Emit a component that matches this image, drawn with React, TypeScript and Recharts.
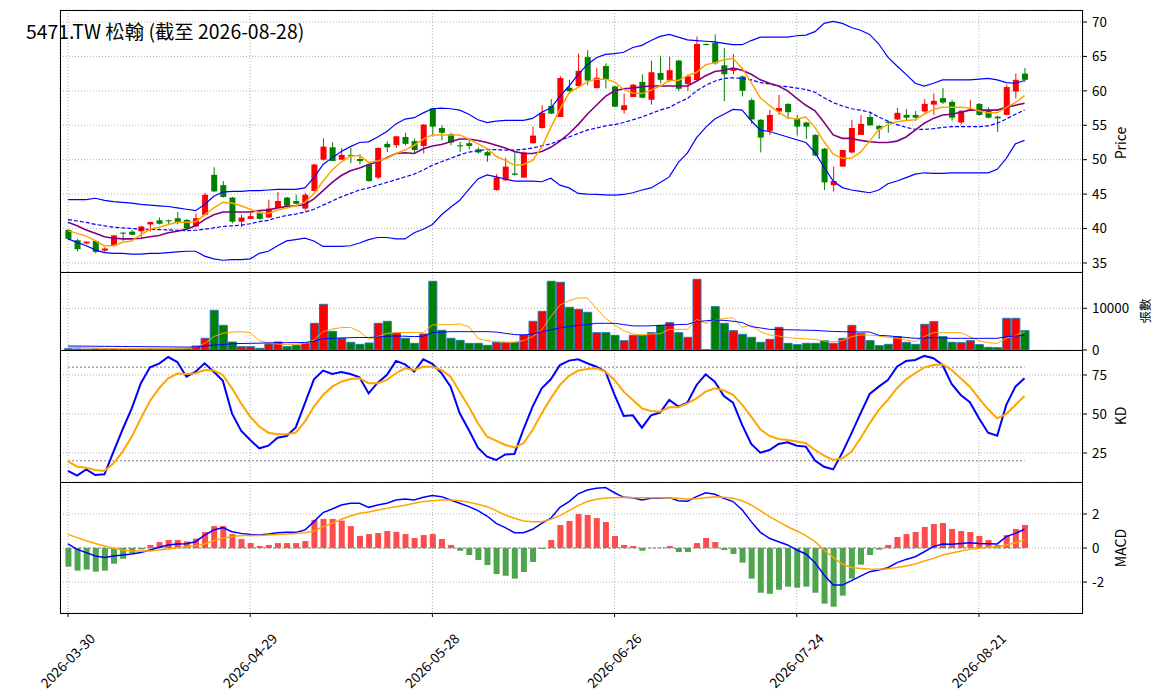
import React from 'react';
import {
  ComposedChart,
  Bar,
  Line,
  XAxis,
  YAxis,
  CartesianGrid,
  Cell,
  ReferenceLine,
} from 'recharts';

// OHLC (index 0 = 2026-03-30)
const opens = [
  39.8, 38.3, 37.85, 38.2, 36.8, 37.5, 39.4, 39.55, 39.6, 40.6,
  41.2, 41.2, 41.5, 41.25, 40.3, 42.0, 47.8, 46.3, 44.5, 41.0,
  41.4, 42.25, 41.6, 43.0, 44.5, 44.0, 42.9, 45.45, 50.0, 51.8,
  50.0, 50.7, 50.1, 49.3, 47.4, 52.3, 52.1, 53.3, 52.7, 52.0,
  57.45, 54.6, 53.7, 52.1, 52.4, 51.5, 51.1, 45.6, 47.0, 48.0,
  47.4, 52.4, 54.6, 57.8, 56.2, 60.45, 60.7, 64.9, 60.4, 63.6,
  60.64, 57.2, 59.1, 61.3, 58.7, 62.6, 61.5, 64.4, 61.0, 61.56,
  66.8, 67.0, 63.7, 62.9, 62.1, 58.65, 55.8, 54.2, 57.0, 58.1,
  55.9, 55.4, 53.6, 51.6, 46.3, 49.0, 51.05, 53.6, 56.2, 54.9,
  55.5, 55.85, 56.5, 56.5, 57.0, 58.0, 58.95, 58.4, 55.4, 57.1,
  58.1, 57.2, 56.25, 56.5, 59.9, 62.5,
];
const highs = [
  39.9, 38.5, 38.1, 38.3, 37.3, 39.1, 39.5, 39.8, 40.4, 41.0,
  41.6, 41.3, 42.4, 41.4, 42.2, 45.2, 48.9, 46.9, 44.6, 42.0,
  42.3, 42.5, 44.2, 45.3, 44.6, 44.9, 45.2, 49.4, 53.1, 52.5,
  51.7, 51.7, 50.8, 49.4, 51.8, 52.7, 53.4, 53.9, 53.1, 55.2,
  57.5, 55.0, 53.9, 52.6, 53.0, 51.8, 51.3, 47.9, 50.3, 51.25,
  51.2, 54.8, 57.9, 58.8, 62.15, 61.6, 65.4, 65.9, 63.35, 64.0,
  60.7, 59.6, 61.0, 62.4, 64.4, 65.1, 64.95, 64.5, 62.4, 67.9,
  66.9, 68.2, 66.2, 65.3, 62.2, 58.9, 55.9, 57.2, 59.4, 58.2,
  56.5, 55.5, 53.7, 51.7, 49.0, 51.4, 55.8, 56.5, 56.8, 55.0,
  55.65, 57.5, 57.35, 57.1, 58.8, 59.6, 60.4, 58.7, 57.2, 58.7,
  58.2, 57.6, 56.4, 60.9, 62.5, 63.3,
];
const lows = [
  38.3, 36.7, 37.7, 36.4, 36.5, 37.4, 38.2, 39.1, 38.7, 39.6,
  40.6, 40.5, 40.6, 39.9, 40.2, 41.95, 45.3, 44.5, 40.75, 40.2,
  41.4, 41.3, 41.5, 43.0, 43.0, 43.5, 42.6, 45.4, 49.9, 49.8,
  50.0, 49.5, 49.3, 46.8, 47.2, 51.1, 51.7, 52.1, 51.0, 50.9,
  53.4, 52.8, 52.1, 51.1, 51.5, 50.9, 49.7, 45.5, 46.9, 47.7,
  47.4, 52.3, 54.5, 56.6, 56.2, 59.6, 60.65, 60.8, 60.35, 60.35,
  57.6, 56.7, 59.1, 58.9, 58.0, 61.1, 61.3, 59.96, 60.0, 61.5,
  66.6, 63.8, 58.5, 62.4, 59.2, 55.2, 51.05, 53.6, 56.5, 55.9,
  53.5, 53.0, 50.5, 45.6, 45.4, 49.0, 50.9, 53.6, 54.9, 53.0,
  53.9, 55.75, 55.65, 55.65, 56.8, 56.5, 58.1, 55.65, 55.1, 57.1,
  56.4, 56.0, 54.0, 56.5, 58.9, 61.3,
];
const closes = [
  38.5, 37.0, 38.1, 36.6, 37.1, 39.0, 39.3, 39.1, 40.3, 40.95,
  40.7, 41.1, 40.8, 40.0, 41.5, 44.9, 45.4, 44.6, 41.0, 41.6,
  41.8, 41.4, 42.9, 44.0, 43.3, 43.6, 44.9, 49.3, 51.9, 49.8,
  50.7, 50.6, 49.8, 46.9, 51.7, 51.8, 53.4, 52.3, 51.4, 55.1,
  54.8, 53.9, 52.5, 52.0, 52.0, 51.05, 50.6, 47.4, 49.0, 47.8,
  51.05, 53.5, 56.8, 56.7, 61.85, 59.96, 62.9, 61.5, 61.9, 61.66,
  57.7, 57.9, 60.9, 59.0, 62.7, 61.6, 63.0, 60.3, 62.1, 66.8,
  66.7, 64.0, 62.4, 63.2, 60.0, 55.85, 53.2, 56.5, 57.5, 56.9,
  54.8, 54.8, 50.6, 46.7, 46.9, 51.4, 54.6, 55.2, 55.0, 54.4,
  55.35, 56.8, 56.1, 56.1, 58.1, 58.55, 58.3, 56.1, 57.1, 57.3,
  56.5, 56.1, 56.0, 60.55, 61.6, 61.6,
];

// Price overlays
const ma5 = [
  39.7, 39.3, 38.9, 38.2, 37.5, 37.5, 38.0, 38.2, 39.1, 39.9,
  40.2, 40.6, 40.9, 40.9, 41.0, 42.0, 43.0, 43.8, 43.7, 43.3,
  42.8, 42.3, 42.2, 42.7, 43.0, 43.3, 43.8, 45.1, 46.9, 48.5,
  49.7, 50.5, 50.6, 49.6, 49.8, 50.2, 50.9, 51.4, 52.1, 53.0,
  53.6, 53.6, 53.6, 53.6, 53.0, 52.3, 51.6, 50.5, 49.9, 49.2,
  49.3, 49.9, 51.8, 54.7, 57.3, 59.7, 60.5, 61.3, 61.7, 61.7,
  61.3, 60.2, 59.7, 59.6, 60.1, 60.7, 61.5, 61.5, 62.2, 62.7,
  63.8, 64.1, 64.5, 64.7, 63.3, 61.2, 59.0, 57.9, 56.9, 56.1,
  55.9, 56.2, 54.7, 52.6, 50.8, 50.2, 50.2, 51.1, 52.7, 54.4,
  55.1, 55.5, 55.7, 55.8, 56.6, 57.3, 57.6, 57.6, 57.6, 57.5,
  57.1, 56.8, 56.8, 57.6, 58.3, 59.3,
];
const ma10 = [
  40.9, 40.4, 39.8, 39.3, 38.8, 38.6, 38.5, 38.5, 38.6, 38.8,
  39.0, 39.4, 39.6, 39.9, 40.4, 41.3, 42.0, 42.4, 42.4, 42.4,
  42.4, 42.6, 42.7, 43.0, 43.2, 43.3, 43.5, 44.3, 45.5, 46.7,
  47.7, 48.4, 48.8, 49.3, 49.7, 50.3, 50.9, 51.0, 50.9, 51.6,
  52.0, 52.2, 52.6, 53.0, 53.0, 52.8, 52.5, 52.1, 51.7, 51.2,
  50.9, 50.9, 51.2, 51.8, 52.7, 53.8, 55.1, 56.6, 57.9, 59.2,
  60.0, 60.3, 60.4, 60.6, 60.7, 60.7, 60.7, 60.7, 60.7, 61.4,
  62.2, 62.8, 63.0, 63.3, 63.0, 62.4, 61.6, 61.1, 60.7, 60.0,
  58.9, 57.9, 57.1, 55.4, 53.6, 53.1, 53.1, 52.8, 52.6, 52.5,
  52.5, 52.7, 53.3, 54.3, 55.3, 56.0, 56.5, 56.6, 56.9, 57.2,
  57.2, 57.2, 57.2, 57.6, 57.9, 58.2,
];
const bbMid = [
  41.3, 41.1, 40.9, 40.6, 40.4, 40.2, 40.1, 40.0, 39.9, 39.9,
  39.85, 39.8, 39.75, 39.7, 39.75, 39.9, 40.1, 40.3, 40.4, 40.5,
  40.7, 41.0, 41.2, 41.6, 41.9, 42.1, 42.4, 42.8, 43.4, 44.0,
  44.6, 45.1, 45.6, 45.9, 46.3, 46.7, 47.1, 47.5, 47.9, 48.5,
  49.2, 49.7, 50.2, 50.7, 51.1, 51.3, 51.5, 51.45, 51.4, 51.4,
  51.5, 51.7, 52.0, 52.3, 52.8, 53.3, 53.8, 54.3, 54.6, 54.9,
  55.1, 55.4, 55.8, 56.2, 56.7, 57.2, 57.6, 58.3, 58.9, 60.0,
  60.8, 61.4, 61.8, 61.9, 61.8, 61.6, 61.2, 61.0, 60.7, 60.6,
  60.4, 60.2, 59.8, 59.0, 58.3, 57.8, 57.4, 57.2, 56.9, 56.2,
  55.6, 55.1, 54.7, 54.4, 54.4, 54.5, 54.7, 54.8, 54.8, 54.8,
  54.8, 54.9, 55.3, 55.9, 56.6, 57.2,
];
const bbUpper = [
  44.2, 44.2, 44.2, 44.4, 44.1, 43.9, 43.8, 43.7, 43.5, 43.4,
  43.3, 43.2, 43.0, 42.8, 42.6, 43.5, 44.7, 45.3, 45.4, 45.4,
  45.5, 45.5, 45.6, 45.7, 45.7, 45.7, 45.9, 47.4, 49.3, 50.3,
  51.2, 51.9, 52.5, 52.6, 53.3, 54.1, 55.2, 55.9, 56.1, 56.8,
  57.4, 57.5, 57.4, 57.2, 56.6, 55.8, 55.4, 55.6, 55.7, 55.7,
  55.7, 56.0, 56.9, 57.5, 59.2, 60.7, 62.4, 63.8, 64.8, 65.3,
  65.4, 65.6, 66.3, 66.6, 67.3, 67.9, 68.2, 67.8, 67.4, 67.3,
  67.2, 67.1, 66.9, 66.7, 66.7, 67.3, 67.8, 67.8, 67.8, 67.8,
  68.0, 68.1, 68.6, 69.8, 70.1, 69.8, 69.2, 68.8, 68.2, 66.8,
  64.9, 63.6, 62.4, 61.1, 60.7, 61.1, 61.6, 61.6, 61.6, 61.6,
  61.7, 61.8, 61.6, 61.2, 61.1, 61.5,
];
const bbLower = [
  38.5, 38.0, 37.5, 36.9, 36.5, 36.4, 36.4, 36.3, 36.3, 36.4,
  36.4, 36.5, 36.6, 36.7, 36.7, 36.0, 35.6, 35.4, 35.5, 35.5,
  35.6, 36.4, 36.7, 37.5, 38.2, 38.4, 38.6, 38.2, 37.4, 37.4,
  37.4, 37.5, 37.9, 38.4, 38.7, 38.7, 38.5, 38.5, 39.4, 39.9,
  40.6, 42.0, 43.1, 44.1, 45.7, 47.2, 47.8, 47.5, 47.2, 46.9,
  46.9, 46.9, 46.8, 47.3, 46.3, 45.9, 45.1, 45.0, 44.95, 44.9,
  44.85, 44.95, 45.2, 45.6, 45.9, 46.7, 47.5, 49.6, 51.0, 53.2,
  54.7, 55.9, 56.6, 57.3, 57.2, 55.65, 54.3, 54.1, 53.7, 53.3,
  52.9, 52.5, 51.05, 48.9, 46.9, 45.95, 45.6, 45.4, 45.2, 45.6,
  46.5, 46.9, 47.4, 47.9, 48.1, 48.0, 48.0, 48.1, 48.1, 48.1,
  48.1, 48.1, 48.6, 50.2, 52.3, 52.8,
];

// Volume (張) and its averages
const volumes = [
  300, 250, 200, 280, 220, 260, 180, 200, 230, 260,
  210, 240, 300, 350, 960, 2800, 9520, 5920, 1920, 800,
  800, 400, 1440, 1920, 800, 1120, 1600, 6400, 10960, 4480,
  2800, 1840, 1360, 1680, 6400, 6880, 4080, 2800, 1600, 3840,
  16480, 4720, 2800, 2320, 1600, 1600, 1120, 1840, 1840, 1840,
  3600, 6880, 9280, 16480, 16240, 10240, 9760, 9040, 4160, 4160,
  3520, 2240, 3520, 3520, 4160, 5920, 6560, 4160, 3040, 16960,
  60, 10400, 6400, 4640, 3760, 3040, 1840, 2560, 5440, 1600,
  1280, 1600, 1600, 2240, 1600, 2800, 5920, 4000, 2240, 1040,
  1360, 3200, 1840, 1360, 6160, 6800, 3200, 1840, 1760, 2240,
  1280, 640, 560, 7600, 7600, 4640,
];
const volMa5 = [
  640, 600, 520, 450, 400, 350, 330, 320, 300, 300,
  300, 300, 300, 320, 640, 1600, 3200, 4000, 4320, 4400,
  4160, 2240, 1700, 1440, 1280, 1280, 1600, 2400, 4400, 5040,
  5360, 5440, 4400, 2640, 3200, 4000, 4160, 4200, 4200, 4160,
  6000, 6080, 6080, 6240, 5600, 2800, 2240, 2000, 1840, 1840,
  2240, 3200, 4800, 8000, 10800, 11840, 12480, 12480, 10000, 7600,
  6000, 4640, 3840, 3600, 3840, 3900, 4960, 4960, 4960, 7360,
  6400, 7200, 7520, 7760, 5440, 6000, 4400, 3600, 3360, 2960,
  2800, 2640, 2560, 2160, 2000, 2240, 3200, 3600, 3600, 3360,
  3040, 2800, 2400, 2000, 3200, 4160, 4160, 4160, 4160, 3200,
  2240, 1760, 1600, 2800, 3440, 4400,
];
const volMa20 = [
  960, 940, 920, 900, 880, 860, 840, 820, 800, 780,
  760, 740, 720, 700, 720, 960, 1200, 1300, 1500, 1560,
  1600, 1640, 1700, 1760, 1760, 1760, 1800, 2100, 2720, 2800,
  2880, 2960, 3000, 3000, 3100, 3300, 3360, 3300, 3200, 3300,
  4160, 4300, 4400, 4400, 4400, 4400, 4400, 4300, 4000, 3700,
  3600, 3800, 4400, 4800, 5300, 5600, 5900, 6100, 6400, 6400,
  6400, 6100, 5800, 5760, 5800, 5900, 6000, 6100, 6160, 6800,
  7000, 7200, 7100, 6900, 6600, 5600, 5300, 4960, 4900, 4850,
  4800, 4750, 4700, 4560, 4450, 4400, 4320, 4320, 4320, 3520,
  3400, 3200, 3000, 2800, 2850, 2960, 2900, 2800, 2800, 2800,
  2800, 2800, 2800, 3200, 3350, 3520,
];

// KD
const kValues = [
  13.5, 10.5, 14.5, 10.9, 11.3, 25.8, 40.2, 53.6, 69.7, 79.9,
  82.3, 86.5, 83.3, 73.9, 77.1, 82.5, 77.1, 71.2, 50.4, 39.3,
  33.3, 28.0, 29.7, 34.8, 35.9, 41.4, 56.8, 72.2, 77.8, 75.6,
  76.9, 75.6, 73.5, 63.2, 70.1, 75.0, 84.0, 81.8, 77.1, 85.0,
  82.1, 76.1, 67.5, 50.4, 39.7, 28.4, 22.6, 20.5, 24.1, 24.4,
  40.2, 54.7, 66.5, 72.2, 81.4, 84.2, 85.0, 82.5, 80.3, 77.1,
  62.2, 48.7, 49.1, 41.2, 49.1, 50.9, 59.0, 54.7, 57.3, 68.6,
  75.4, 70.7, 61.5, 57.3, 43.0, 30.8, 25.2, 26.9, 30.8, 31.8,
  29.7, 29.1, 20.1, 16.2, 14.5, 25.2, 37.6, 50.4, 62.8, 67.5,
  71.8, 80.3, 84.0, 84.6, 87.2, 85.7, 81.4, 69.2, 62.2, 57.5,
  47.2, 38.0, 36.1, 55.8, 67.5, 72.9,
];
const dValues = [
  19.6, 16.2, 15.6, 14.1, 13.5, 18.4, 25.8, 35.5, 47.2, 58.3,
  66.5, 72.9, 75.9, 75.6, 76.1, 78.2, 77.8, 75.0, 66.5, 56.8,
  48.3, 41.9, 38.0, 37.0, 37.0, 38.0, 45.1, 54.7, 62.2, 67.5,
  70.7, 72.4, 72.9, 69.7, 69.7, 71.8, 76.1, 79.3, 78.2, 80.3,
  80.3, 78.2, 73.9, 64.3, 54.7, 44.0, 35.5, 32.9, 30.1, 28.6,
  31.2, 39.7, 50.4, 60.0, 68.6, 74.4, 77.8, 78.8, 79.3, 77.1,
  71.8, 64.3, 59.0, 53.6, 51.9, 51.5, 54.3, 54.3, 56.8, 60.0,
  64.3, 66.5, 65.0, 62.2, 56.0, 48.3, 40.2, 35.9, 34.0, 33.3,
  32.3, 31.2, 26.9, 23.3, 20.5, 21.6, 25.8, 34.4, 44.0, 52.6,
  59.0, 66.5, 72.2, 76.1, 79.9, 81.4, 81.8, 78.2, 72.9, 67.5,
  60.0, 53.0, 47.2, 50.0, 55.8, 61.5,
];

// MACD
const macdHist = [
  -1.1, -1.33, -1.27, -1.39, -1.33, -0.92, -0.63, -0.31, -0.08, 0.18,
  0.35, 0.47, 0.47, 0.39, 0.55, 0.94, 1.29, 1.29, 0.82, 0.53,
  0.29, 0.12, 0.18, 0.29, 0.29, 0.29, 0.41, 1.65, 1.71, 1.71,
  1.61, 1.29, 0.71, 0.82, 0.88, 1.0, 0.95, 0.82, 0.59, 0.76,
  0.82, 0.53, 0.18, -0.16, -0.41, -0.71, -1.0, -1.53, -1.63, -1.8,
  -1.41, -0.82, -0.06, 0.47, 1.35, 1.59, 2.0, 1.94, 1.76, 1.53,
  0.71, 0.18, 0.12, -0.16, 0.01, 0.02, 0.12, -0.24, -0.24, 0.29,
  0.59, 0.35, -0.12, -0.35, -0.86, -1.8, -2.63, -2.69, -2.45, -2.27,
  -2.33, -2.27, -2.63, -3.27, -3.45, -2.8, -1.8, -0.98, -0.41, -0.1,
  0.18, 0.65, 0.82, 0.94, 1.24, 1.41, 1.47, 1.12, 1.0, 0.94,
  0.71, 0.47, 0.18, 0.76, 1.12, 1.35,
];
const macdDif = [
  0.24, -0.08, -0.27, -0.47, -0.55, -0.47, -0.41, -0.35, -0.27, -0.12,
  0.04, 0.18, 0.24, 0.25, 0.37, 0.76, 1.06, 1.2, 0.96, 0.86,
  0.8, 0.76, 0.82, 0.9, 0.92, 0.92, 1.06, 1.55, 2.08, 2.29,
  2.53, 2.63, 2.63, 2.39, 2.53, 2.63, 2.82, 2.88, 2.82, 2.98,
  3.08, 3.02, 2.82, 2.63, 2.43, 2.2, 1.88, 1.45, 1.2, 0.9,
  0.9, 1.1, 1.45, 1.75, 2.39, 2.73, 3.18, 3.41, 3.51, 3.55,
  3.25, 2.98, 2.96, 2.82, 2.92, 2.92, 2.96, 2.78, 2.75, 3.02,
  3.25, 3.16, 2.92, 2.73, 2.25, 1.55, 0.92, 0.57, 0.37, 0.18,
  -0.12, -0.35, -0.86, -1.59, -2.18, -2.18, -1.92, -1.65, -1.39, -1.29,
  -1.16, -0.86, -0.67, -0.51, -0.22, 0.08, 0.24, 0.22, 0.27, 0.31,
  0.27, 0.25, 0.24, 0.67, 0.86, 1.1,
];
const macdDea = [
  0.8, 0.61, 0.43, 0.27, 0.12, -0.02, -0.12, -0.18, -0.18, -0.18,
  -0.12, -0.06, 0.02, 0.08, 0.14, 0.24, 0.43, 0.57, 0.67, 0.73,
  0.73, 0.73, 0.76, 0.8, 0.82, 0.86, 0.9, 1.0, 1.25, 1.45,
  1.69, 1.88, 2.04, 2.12, 2.24, 2.33, 2.43, 2.51, 2.63, 2.73,
  2.78, 2.82, 2.82, 2.78, 2.69, 2.57, 2.43, 2.2, 1.94, 1.75,
  1.59, 1.55, 1.55, 1.69, 1.9, 2.2, 2.49, 2.73, 2.86, 2.94,
  2.96, 2.98, 2.96, 2.96, 2.96, 2.96, 2.94, 2.92, 2.88, 2.9,
  2.96, 3.02, 2.98, 2.92, 2.78, 2.53, 2.2, 1.84, 1.55, 1.25,
  1.0, 0.73, 0.37, -0.12, -0.55, -0.94, -1.14, -1.2, -1.24, -1.25,
  -1.22, -1.14, -1.06, -0.94, -0.76, -0.61, -0.41, -0.29, -0.18, -0.08,
  -0.02, 0.04, 0.08, 0.18, 0.31, 0.47,
];

const tickIndex = [0, 20, 40, 60, 80, 100];
const tickLabels = ['2026-03-30', '2026-04-29', '2026-05-28', '2026-06-26', '2026-07-24', '2026-08-21'];

const FONT = "'Noto Sans CJK TC', 'Noto Sans', sans-serif";
const UP = '#ff0000';
const DOWN = '#008000';
const X_DOMAIN: [number, number] = [-0.878, 111.42];
const LAST = opens.length - 1;

const data = opens.map((o, i) => ({
  i,
  open: o,
  high: highs[i],
  low: lows[i],
  close: closes[i],
  range: [lows[i], highs[i]],
  up: closes[i] >= o,
  ma5: ma5[i],
  ma10: ma10[i],
  mid: bbMid[i],
  upper: bbUpper[i],
  lower: bbLower[i],
  vol: volumes[i],
  vma5: volMa5[i],
  vma20: volMa20[i],
  k: kValues[i],
  d: dValues[i],
  hist: macdHist[i],
  dif: macdDif[i],
  dea: macdDea[i],
}));

const Candle = (props: any) => {
  const { x, y, width, height, payload } = props;
  const top = Math.min(y, y + height);
  const bot = Math.max(y, y + height);
  const span = payload.high - payload.low || 1;
  const py = (v: number) => top + ((payload.high - v) / span) * (bot - top);
  const color = payload.up ? UP : DOWN;
  const cx = x + width / 2;
  const bTop = py(Math.max(payload.open, payload.close));
  const bBot = py(Math.min(payload.open, payload.close));
  return (
    <g>
      <line x1={cx} x2={cx} y1={top} y2={bot} stroke={color} strokeWidth={1} />
      <rect x={x} y={bTop} width={width} height={Math.max(1, bBot - bTop)} fill={color} />
    </g>
  );
};

const DateTick = (props: any) => {
  const { x, y, payload } = props;
  const idx = tickIndex.indexOf(payload.value);
  return (
    <g transform={`translate(${x},${y + 42}) rotate(-45)`}>
      <text textAnchor="middle" dy="0.35em" fontSize={13.6} fontFamily={FONT} fill="#000">
        {tickLabels[idx]}
      </text>
    </g>
  );
};

const grid = <CartesianGrid stroke="#b0b0b0" strokeDasharray="1 2" />;
const yTick = { fontSize: 13.4, fill: '#000', fontFamily: FONT };

const hiddenX = (
  <XAxis
    dataKey="i"
    type="number"
    domain={X_DOMAIN}
    allowDataOverflow
    ticks={tickIndex}
    hide
  />
);

const rightY = (domain: [number, number], ticks: number[]) => (
  <YAxis
    orientation="right"
    width={60}
    type="number"
    domain={domain}
    allowDataOverflow
    ticks={ticks}
    interval={0}
    axisLine={false}
    tickLine={{ stroke: '#000' }}
    tickSize={4}
    tickMargin={5}
    tick={yTick}
  />
);

const margin = (top: number, bottom = 0) => ({ top, right: 20, left: 60, bottom });

export default function App() {
  const panels = [
    [10, 272],
    [272, 350],
    [350, 482],
    [482, 613],
  ];
  return (
    <div style={{ position: 'absolute', left: 0, top: 0, width: 1163, height: 698, background: '#fff', fontFamily: FONT }}>
      <div style={{ position: 'absolute', left: 0, top: 0 }}>
        <ComposedChart width={1163} height={272} data={data} margin={margin(10)}>
          {grid}
          {hiddenX}
          {rightY([33.69, 71.74], [35, 40, 45, 50, 55, 60, 65, 70])}
          <Bar dataKey="range" barSize={6} shape={<Candle />} isAnimationActive={false} />
          <Line dataKey="upper" type="linear" stroke="#0000ff" strokeWidth={1.2} dot={false} isAnimationActive={false} />
          <Line dataKey="lower" type="linear" stroke="#0000ff" strokeWidth={1.2} dot={false} isAnimationActive={false} />
          <Line dataKey="mid" type="linear" stroke="#0000ff" strokeWidth={1.2} strokeDasharray="4 2" dot={false} isAnimationActive={false} />
          <Line dataKey="ma10" type="linear" stroke="#800080" strokeWidth={1.6} dot={false} isAnimationActive={false} />
          <Line dataKey="ma5" type="linear" stroke="#ffa500" strokeWidth={1.5} dot={false} isAnimationActive={false} />
        </ComposedChart>
      </div>

      <div style={{ position: 'absolute', left: 0, top: 350 }}>
        <ComposedChart width={1163} height={132} data={data} margin={margin(0)}>
          {grid}
          {hiddenX}
          {rightY([6.4, 91], [25, 50, 75])}
          <ReferenceLine segment={[{ x: 0, y: 80 }, { x: LAST, y: 80 }]} stroke="#808080" strokeDasharray="2 2" />
          <ReferenceLine segment={[{ x: 0, y: 20 }, { x: LAST, y: 20 }]} stroke="#808080" strokeDasharray="2 2" />
          <Line dataKey="k" type="linear" stroke="#0000ff" strokeWidth={2} dot={false} isAnimationActive={false} />
          <Line dataKey="d" type="linear" stroke="#ffa500" strokeWidth={2} dot={false} isAnimationActive={false} />
        </ComposedChart>
      </div>

      <div style={{ position: 'absolute', left: 0, top: 272 }}>
        <ComposedChart width={1163} height={90} data={data} margin={margin(0, 12)}>
          {grid}
          {hiddenX}
          {rightY([0, 18705], [0, 10000])}
          <Bar dataKey="vol" barSize={8} stroke="#1f77b4" strokeWidth={1} isAnimationActive={false}>
            {data.map((d) => (
              <Cell key={d.i} fill={d.up ? UP : DOWN} />
            ))}
          </Bar>
          <Line dataKey="vma5" type="linear" stroke="#ffa500" strokeWidth={1} dot={false} isAnimationActive={false} />
          <Line dataKey="vma20" type="linear" stroke="#0000ff" strokeWidth={1} dot={false} isAnimationActive={false} />
        </ComposedChart>
      </div>

      <div style={{ position: 'absolute', left: 0, top: 482 }}>
        <ComposedChart width={1163} height={216} data={data} margin={margin(0)}>
          {grid}
          <XAxis
            dataKey="i"
            type="number"
            domain={X_DOMAIN}
            allowDataOverflow
            ticks={tickIndex}
            interval={0}
            height={85}
            axisLine={false}
            tickLine={{ stroke: '#000' }}
            tickSize={4}
            tick={<DateTick />}
          />
          {rightY([-3.82, 3.88], [-2, 0, 2])}
          <ReferenceLine segment={[{ x: 0, y: 0 }, { x: LAST, y: 0 }]} stroke="#808080" strokeDasharray="3 2" />
          <Bar dataKey="hist" barSize={6} isAnimationActive={false}>
            {data.map((d) => (
              <Cell key={d.i} fill={d.hist >= 0 ? '#ff4d4d' : '#4da64d'} />
            ))}
          </Bar>
          <Line dataKey="dif" type="linear" stroke="#0000ff" strokeWidth={1.5} dot={false} isAnimationActive={false} />
          <Line dataKey="dea" type="linear" stroke="#ffa500" strokeWidth={1.5} dot={false} isAnimationActive={false} />
        </ComposedChart>
      </div>

      <svg width={1163} height={698} style={{ position: 'absolute', left: 0, top: 0, pointerEvents: 'none' }}>
        {panels.map(([t, b], n) => (
          <rect key={n} x={60.5} y={t + 0.5} width={1022} height={b - t} fill="none" stroke="#000" strokeWidth={1} />
        ))}
        <text x={26} y={39} fontSize={19.4} fontFamily={FONT} fill="#000">
          5471.TW 松翰 (截至 2026-08-28)
        </text>
        <text transform="translate(1121,143) rotate(-90)" textAnchor="middle" dy="0.35em" fontSize={14} fontFamily={FONT}>Price</text>
        <text transform="translate(1146,311) rotate(-90)" textAnchor="middle" dy="0.35em" fontSize={12.5} fontFamily={FONT}>張數</text>
        <text transform="translate(1121,416) rotate(-90)" textAnchor="middle" dy="0.35em" fontSize={14} fontFamily={FONT}>KD</text>
        <text transform="translate(1121,548) rotate(-90)" textAnchor="middle" dy="0.35em" fontSize={14} fontFamily={FONT}>MACD</text>
      </svg>
    </div>
  );
}
